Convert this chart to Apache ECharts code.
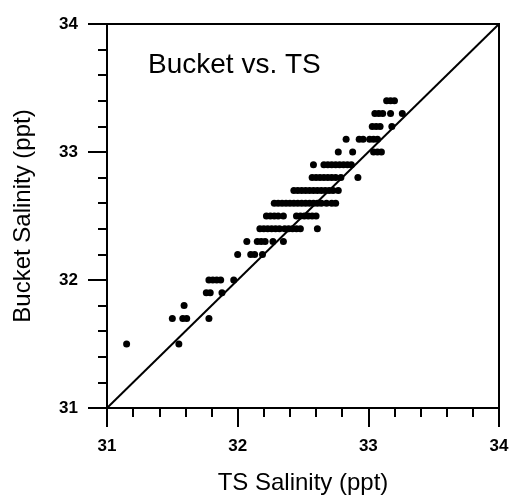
<!DOCTYPE html>
<html>
<head>
<meta charset="utf-8">
<script src="https://cdn.jsdelivr.net/npm/echarts@6/dist/echarts.min.js"></script>
<style>
  html, body { margin: 0; padding: 0; background: #fff; }
  #chart { width: 521px; height: 501px; }
</style>
</head>
<body>
<div id="chart"></div>
<script>
// bucket salinity rows (ppt) and the TS salinity readings found on each row
const bucketLevels = [31.5, 31.7, 31.8, 31.9, 32.0, 32.2, 32.3, 32.4, 32.5, 32.6, 32.7, 32.8, 32.9, 33.0, 33.1, 33.2, 33.3, 33.4];
const tsRows = [
  [31.15, 31.55],
  [31.50, 31.58, 31.61, 31.78],
  [31.59],
  [31.76, 31.79, 31.88],
  [31.78, 31.81, 31.84, 31.87, 31.97],
  [32.00, 32.10, 32.13, 32.19],
  [32.07, 32.15, 32.18, 32.21, 32.27, 32.35],
  [32.17, 32.20, 32.23, 32.26, 32.29, 32.32, 32.36, 32.39, 32.42, 32.45, 32.48, 32.61],
  [32.22, 32.25, 32.28, 32.31, 32.35, 32.45, 32.48, 32.51, 32.54, 32.57, 32.60],
  [32.28, 32.31, 32.34, 32.37, 32.40, 32.43, 32.46, 32.49, 32.52, 32.55, 32.58, 32.61, 32.64, 32.68, 32.72, 32.75],
  [32.43, 32.46, 32.49, 32.52, 32.55, 32.58, 32.61, 32.64, 32.67, 32.70, 32.73, 32.77],
  [32.57, 32.60, 32.63, 32.66, 32.69, 32.72, 32.75, 32.79, 32.92],
  [32.58, 32.66, 32.69, 32.72, 32.75, 32.78, 32.81, 32.84, 32.87],
  [32.77, 32.88, 33.04, 33.07, 33.10],
  [32.83, 32.93, 32.96, 33.01, 33.04, 33.07],
  [33.03, 33.06, 33.09, 33.18],
  [33.05, 33.08, 33.11, 33.17, 33.26],
  [33.14, 33.17, 33.20]
];
// 1:1 line
const oneToOne = [31, 34];

const points = [];
bucketLevels.forEach((b, i) => {
  tsRows[i].forEach(ts => points.push([ts, b]));
});

const font = '"Liberation Sans", Arial, sans-serif';
const chart = echarts.init(document.getElementById('chart'));

chart.setOption({
  animation: false,
  title: {
    text: 'Bucket vs. TS',
    left: 143,
    top: 46,
    textStyle: { fontFamily: font, fontSize: 28, fontWeight: 'normal', color: '#000' }
  },
  grid: {
    left: 107, right: 22, top: 24, bottom: 93,
    show: true, borderColor: '#000', borderWidth: 2
  },
  xAxis: {
    type: 'value',
    min: 31, max: 34, interval: 1,
    name: 'TS Salinity (ppt)',
    nameLocation: 'middle',
    nameGap: 63,
    nameTextStyle: { fontFamily: font, fontSize: 24, color: '#000' },
    axisLine: { lineStyle: { color: '#000', width: 2 } },
    axisTick: { show: true, length: 19, lineStyle: { color: '#000', width: 2 } },
    minorTick: { show: true, splitNumber: 5, length: 9, lineStyle: { color: '#000', width: 2 } },
    axisLabel: { fontFamily: font, fontSize: 17, fontWeight: 'bold', color: '#000', margin: 30 },
    splitLine: { show: false }
  },
  yAxis: {
    type: 'value',
    min: 31, max: 34, interval: 1,
    name: 'Bucket Salinity (ppt)',
    nameLocation: 'middle',
    nameGap: 72,
    nameTextStyle: { fontFamily: font, fontSize: 24, color: '#000' },
    axisLine: { show: true, lineStyle: { color: '#000', width: 2 } },
    axisTick: { show: true, length: 19, lineStyle: { color: '#000', width: 2 } },
    minorTick: { show: true, splitNumber: 5, length: 9, lineStyle: { color: '#000', width: 2 } },
    axisLabel: { fontFamily: font, fontSize: 17, fontWeight: 'bold', color: '#000', margin: 29 },
    splitLine: { show: false }
  },
  series: [
    {
      type: 'line',
      data: oneToOne.map(v => [v, v]),
      symbol: 'none',
      lineStyle: { color: '#000', width: 2 },
      silent: true
    },
    {
      type: 'scatter',
      data: points,
      symbol: 'circle',
      symbolSize: 7,
      itemStyle: { color: '#000', opacity: 1 }
    }
  ]
});
</script>
</body>
</html>
